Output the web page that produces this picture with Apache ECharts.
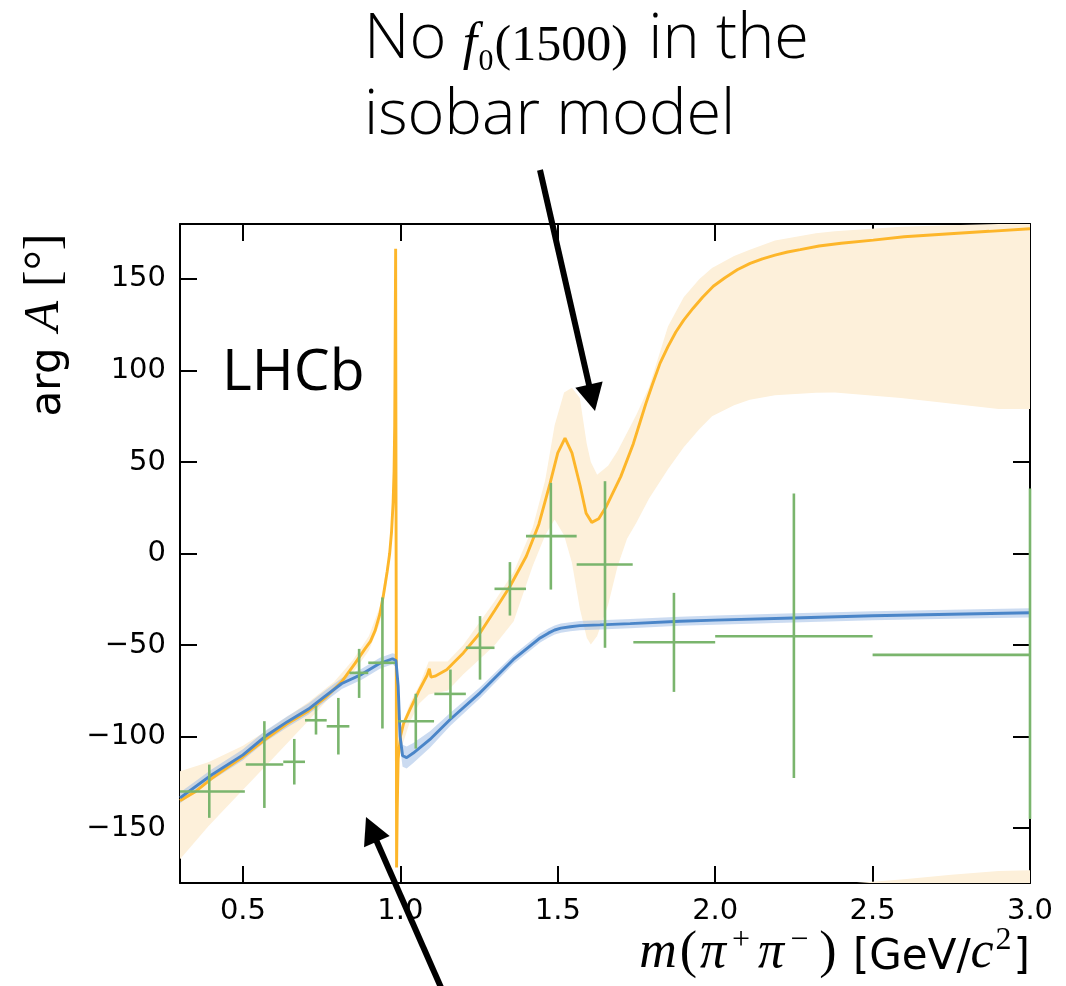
<!DOCTYPE html>
<html><head><meta charset="utf-8">
<script src="https://cdn.jsdelivr.net/npm/echarts@6/dist/echarts.min.js"></script>
<style>html,body{margin:0;padding:0;background:#fff}#c{width:1066px;height:986px}</style>
</head><body><div id="c"></div>
<script>
// ---------- tick labels ----------
const xTicks = [0.5, 1.0, 1.5, 2.0, 2.5, 3.0];
const yTicks = [-150, -100, -50, 0, 50, 100, 150];

// ---------- orange model (phase) ----------
const orangeX = [0.30,0.35,0.40,0.45,0.50,0.57,0.64,0.708,0.76,0.814,0.856,0.888,0.905,0.92,0.935,0.946,0.958,0.966,0.972,0.977,0.98,0.982,0.983,0.984,0.985,0.988,0.99,0.993,1.0,1.01,1.031,1.062,1.085,1.092,1.097,1.11,1.147,1.2,1.253,1.3,1.348,1.4,1.44,1.475,1.5,1.523,1.545,1.571,1.59,1.608,1.63,1.655,1.7,1.74,1.76,1.78,1.80,1.825,1.85,1.875,1.90,1.93,1.96,1.994,2.03,2.07,2.111,2.15,2.19,2.23,2.27,2.33,2.4,2.502,2.6,2.746,2.87,3.0];
const orangeY = [-135,-130,-123,-117,-111,-101.6,-93,-86,-79,-70,-60,-52,-48,-42,-33,-23,-10,0,12,28,45,70,100,135,166.5,-171.5,-140,-112,-100,-93,-85,-74,-66.5,-63,-67.5,-67,-63.5,-54.3,-43.4,-31,-18,-1.5,16,38,55,63,55,37,22,17,19,26,42,60,71,82,92,104,113,121,127.5,134,140,146,150.5,155,158.5,161,163,164.7,166,168,169.5,171.2,173,174.7,176,177.4];

// orange uncertainty band, three pieces
const bandA_X  = [0.30,0.39,0.50,0.60,0.71,0.79,0.85,0.90,0.935,0.958];
const bandA_Hi = [-119,-114,-105,-94,-81,-70,-58,-45,-29,-6];
const bandA_Lo = [-167,-149,-129,-111,-91,-76,-65,-53,-38,-15];
const bandB_X  = [0.993,1.0,1.03,1.06,1.09,1.15,1.2,1.25,1.3,1.36,1.42,1.46,1.49,1.52,1.545,1.57,1.592,1.605,1.625,1.66,1.69,1.72,1.75,1.79,1.85,1.9,1.95,1.99,2.06,2.11,2.19,2.32,2.38,2.59,2.69,2.9,3.0];
const bandB_Hi = [-108,-96,-82,-72,-59,-59,-50,-38,-26,-10,14,40,70,88,90.5,85,60,50,43,48,56,66,76,91,124,140,150,156,162.5,166,171,175,176,178.5,179,180,180];
const bandB_Lo = [-118,-108,-92,-82,-77,-75,-66,-58,-50,-37,-7,10,18.6,10,-5,-30,-46,-49.7,-45,-28,-7,8,17,30,46,58,68,75,81,84,86.5,87.8,88,85,83,79,79];
const bandC_X  = [2.45,2.6,2.75,2.9,3.0];
const bandC_Hi = [-180,-178,-175.5,-173.5,-173];
const bandC_Lo = [-180,-180,-180,-180,-180];

// ---------- blue model ----------
const blueX = [0.30,0.40,0.50,0.57,0.64,0.708,0.76,0.814,0.877,0.935,0.975,0.986,0.993,0.999,1.007,1.02,1.041,1.094,1.158,1.253,1.359,1.444,1.47,1.49,1.51,1.54,1.57,1.634,1.73,1.888,2.0,2.248,2.5,2.75,3.0];
const blueY = [-133.5,-121,-110,-100,-92,-85,-78,-71,-66,-60,-57.5,-58.5,-72.5,-99.8,-110.5,-111.5,-109,-101.6,-90.7,-76.1,-57.9,-46.1,-43.5,-41.8,-40.8,-40,-39.4,-39,-38.3,-37,-36.4,-35.2,-34,-33.2,-32.4];
const blueHi = [-130.5,-118,-107,-97,-89,-82,-75,-68,-63,-57,-54.5,-55,-67.5,-93.8,-104.5,-105.5,-103.5,-97.1,-87.2,-73.1,-55.4,-43.6,-41,-39.3,-38.3,-37.5,-36.9,-36.5,-35.8,-34.5,-33.9,-32.7,-31.5,-30.7,-29.9];
const blueLo = [-136.5,-124,-113,-103,-95,-88,-81,-74,-69,-63,-60.5,-62,-77.5,-105.8,-116.5,-117.5,-114.5,-106.1,-94.2,-79.1,-60.4,-48.6,-46,-44.3,-43.3,-42.5,-41.9,-41.5,-40.8,-39.5,-38.9,-37.7,-36.5,-35.7,-34.9];

// ---------- data points with errors ----------
const ptX   = [0.393,0.568,0.663,0.732,0.803,0.869,0.943,1.049,1.159,1.253,1.348,1.478,1.65,1.869,2.25,3.0];
const ptY   = [-130,-115.3,-113.8,-91.1,-94.4,-65.2,-59.7,-91.6,-76.7,-51.5,-19.3,9.5,-6,-48.5,-45.2,-55.4];
const ptXLo = [0.28,0.509,0.628,0.697,0.766,0.838,0.898,0.993,1.108,1.208,1.299,1.399,1.56,1.74,2.0,2.5];
const ptXHi = [0.506,0.628,0.697,0.766,0.838,0.898,0.983,1.107,1.208,1.299,1.399,1.56,1.738,2.0,2.5,3.5];
const ptYLo = [-144.4,-139,-126.2,-98.9,-109.8,-78.9,-95.6,-106.6,-90.2,-68.9,-33.9,-19.7,-51.5,-75.6,-122.6,-145];
const ptYHi = [-115.3,-91.6,-101.3,-83.1,-78.9,-52.1,-24,-76.6,-63.4,-34.2,-4.7,38.6,39.5,-21.5,32.8,35.5];

const ORANGE = '#fdb62a', BLUE = '#4a85c8', GREEN = '#7ab56d', OBAND = '#fdf0da', BBAND = 'rgba(160,190,230,0.55)';

const zip2 = (a, b) => a.map((v, i) => [v, b[i]]);
const orangeSegs = [[bandA_X, bandA_Lo, bandA_Hi], [bandB_X, bandB_Lo, bandB_Hi], [bandC_X, bandC_Lo, bandC_Hi]];
const blueSegs = [[blueX, blueLo, blueHi]];
const errRows = ptX.map((x, i) => [x, ptY[i], ptXLo[i], ptXHi[i], ptYLo[i], ptYHi[i]]);

function bandRenderer(segs, fill) {
  return function (params, api) {
    const s = segs[params.dataIndex];
    const up = s[0].map((x, i) => api.coord([x, s[2][i]]));
    const lo = s[0].map((x, i) => api.coord([x, s[1][i]])).reverse();
    return { type: 'polygon', shape: { points: up.concat(lo) }, style: { fill: fill, stroke: null } };
  };
}
function renderErr(params, api) {
  const x = api.value(0), y = api.value(1);
  const c = api.coord([x, y]);
  const l = api.coord([api.value(2), y]), r = api.coord([api.value(3), y]);
  const b = api.coord([x, api.value(4)]), t = api.coord([x, api.value(5)]);
  const cs = params.coordSys;
  const st = { stroke: GREEN, lineWidth: 2.6 };
  return { type: 'group', children: [
    { type: 'line', shape: { x1: Math.max(cs.x, l[0]), y1: c[1], x2: Math.min(cs.x + cs.width, r[0]), y2: c[1] }, style: st },
    { type: 'line', shape: { x1: c[0], y1: Math.max(cs.y, t[1]), x2: c[0], y2: Math.min(cs.y + cs.height, b[1]) }, style: st }
  ]};
}
function arrow(tail, tip, headLen, headHalf, w) {
  const dx = tip[0] - tail[0], dy = tip[1] - tail[1], L = Math.hypot(dx, dy);
  const ux = dx / L, uy = dy / L, nx = -uy, ny = ux;
  const bx = tip[0] - ux * headLen, by = tip[1] - uy * headLen;
  return [
    { type: 'line', z: 100, shape: { x1: tail[0], y1: tail[1], x2: bx + ux * 3, y2: by + uy * 3 }, style: { stroke: '#000', lineWidth: w } },
    { type: 'polygon', z: 100, shape: { points: [tip, [bx + nx * headHalf, by + ny * headHalf], [bx - nx * headHalf, by - ny * headHalf]] }, style: { fill: '#000' } }
  ];
}
const minusFmt = v => (v < 0 ? '\u2212' + Math.abs(v) : String(v));
const axisCommon = { lineStyle: { color: '#000', width: 2 } };

const chart = echarts.init(document.getElementById('c'), null, { renderer: 'canvas' });
chart.setOption({
  animation: false,
  backgroundColor: '#fff',
  grid: { left: 180, right: 36, top: 224, bottom: 103, containLabel: false },
  xAxis: [
    { type: 'value', min: 0.3, max: 3.0, position: 'bottom', axisLine: { show: true, onZero: false, ...axisCommon },
      axisTick: { show: true, inside: true, length: 17, customValues: xTicks, lineStyle: { color: '#000', width: 2 } },
      axisLabel: { customValues: xTicks, formatter: v => v.toFixed(1), fontSize: 29, fontFamily: 'DejaVu Sans', color: '#000', margin: 14 },
      splitLine: { show: false } },
    { type: 'value', min: 0.3, max: 3.0, position: 'top', axisLine: { show: true, onZero: false, ...axisCommon },
      axisTick: { show: true, inside: true, length: 17, customValues: xTicks, lineStyle: { color: '#000', width: 2 } },
      axisLabel: { show: false }, splitLine: { show: false } }
  ],
  yAxis: [
    { type: 'value', min: -180, max: 180, position: 'left', axisLine: { show: true, onZero: false, ...axisCommon },
      axisTick: { show: true, inside: true, length: 17, customValues: yTicks, lineStyle: { color: '#000', width: 2 } },
      axisLabel: { customValues: yTicks, formatter: minusFmt, fontSize: 29, fontFamily: 'DejaVu Sans', color: '#000', margin: 14 },
      splitLine: { show: false } },
    { type: 'value', min: -180, max: 180, position: 'right', axisLine: { show: true, onZero: false, ...axisCommon },
      axisTick: { show: true, inside: true, length: 17, customValues: yTicks, lineStyle: { color: '#000', width: 2 } },
      axisLabel: { show: false }, splitLine: { show: false } }
  ],
  series: [
    { type: 'custom', name: 'orange band', z: 1, silent: true, renderItem: bandRenderer(orangeSegs, OBAND),
      data: orangeSegs.map(s => [s[0][0], s[2][0]]) },
    { type: 'custom', name: 'blue band', z: 2, silent: true, renderItem: bandRenderer(blueSegs, BBAND),
      data: blueSegs.map(s => [s[0][0], s[2][0]]) },
    { type: 'line', name: 'orange', z: 3, data: zip2(orangeX, orangeY), showSymbol: false, smooth: false,
      lineStyle: { color: ORANGE, width: 2.9 }, itemStyle: { color: ORANGE } },
    { type: 'line', name: 'blue', z: 4, data: zip2(blueX, blueY), showSymbol: false, smooth: false,
      lineStyle: { color: BLUE, width: 2.9 }, itemStyle: { color: BLUE } },
    { type: 'custom', name: 'data', z: 5, renderItem: renderErr, data: errRows,
      encode: { x: [0, 2, 3], y: [1, 4, 5] } }
  ],
  graphic: [
    { type: 'text', x: 364, y: 40, z: 100, style: {
        text: '{t|No }{m|f}{p|\u2080(1500)}{t| in the}', verticalAlign: 'middle', align: 'left',
        rich: {
          t: { fontFamily: 'Open Sans', fontWeight: 300, fontSize: 63, fill: '#000', verticalAlign: 'bottom' },
          m: { fontFamily: 'Liberation Serif', fontStyle: 'italic', fontSize: 52, fill: '#000', verticalAlign: 'bottom' },
          p: { fontFamily: 'Liberation Serif', fontSize: 50, fill: '#000', verticalAlign: 'bottom', padding: [0, 4, 0, 0] }
        } } },
    { type: 'text', x: 364, y: 116, z: 100, style: {
        text: 'isobar model', fontFamily: 'Open Sans', fontWeight: 300, fontSize: 63, fill: '#000',
        verticalAlign: 'middle', align: 'left' } },
    { type: 'text', x: 222, y: 374, z: 100, style: {
        text: 'LHCb', fontFamily: 'Open Sans', fontSize: 57, fill: '#000', verticalAlign: 'middle', align: 'left' } },
    { type: 'text', x: 45, y: 325, rotation: Math.PI / 2, z: 100, style: {
        text: '{s|arg}{m|A}{p|[\u00b0]}', align: 'center', verticalAlign: 'middle',
        rich: {
          s: { fontFamily: 'DejaVu Sans', fontSize: 42, fill: '#000', verticalAlign: 'bottom', lineHeight: 50, padding: [0, 16, 0, 0] },
          m: { fontFamily: 'Liberation Serif', fontStyle: 'italic', fontSize: 50, fill: '#000', verticalAlign: 'bottom', lineHeight: 50, padding: [0, 14, 0, 0] },
          p: { fontFamily: 'Liberation Serif', fontSize: 50, fill: '#000', verticalAlign: 'bottom', lineHeight: 50 }
        } } },
    { type: 'text', x: 1030, y: 952, z: 100, style: {
        text: '{m|m}{p|(}{m|\u03c0}{sup|+}{m|\u03c0}{sup|\u2212}{p|)}{s| [GeV/}{m|c}{sq|2}{s|]}', align: 'right', verticalAlign: 'middle',
        rich: {
          s: { fontFamily: 'DejaVu Sans', fontSize: 42, fill: '#000', verticalAlign: 'bottom', lineHeight: 54 },
          m: { fontFamily: 'Liberation Serif', fontStyle: 'italic', fontSize: 52, fill: '#000', verticalAlign: 'bottom', lineHeight: 54 },
          p: { fontFamily: 'Liberation Serif', fontSize: 52, fill: '#000', verticalAlign: 'bottom', lineHeight: 54, padding: [0, 3, 0, 3] },
          sup: { fontFamily: 'Liberation Serif', fontSize: 32, fill: '#000', verticalAlign: 'top', lineHeight: 34, padding: [0, 8, 0, 6] },
          sq: { fontFamily: 'Liberation Serif', fontSize: 32, fill: '#000', verticalAlign: 'top', lineHeight: 34, padding: [0, 2, 0, 2] }
        } } },
    ...arrow([540, 170], [595, 411], 27, 14, 6),
    ...arrow([443, 992], [366, 817], 27, 14, 6)
  ]
});
</script>
</body></html>
